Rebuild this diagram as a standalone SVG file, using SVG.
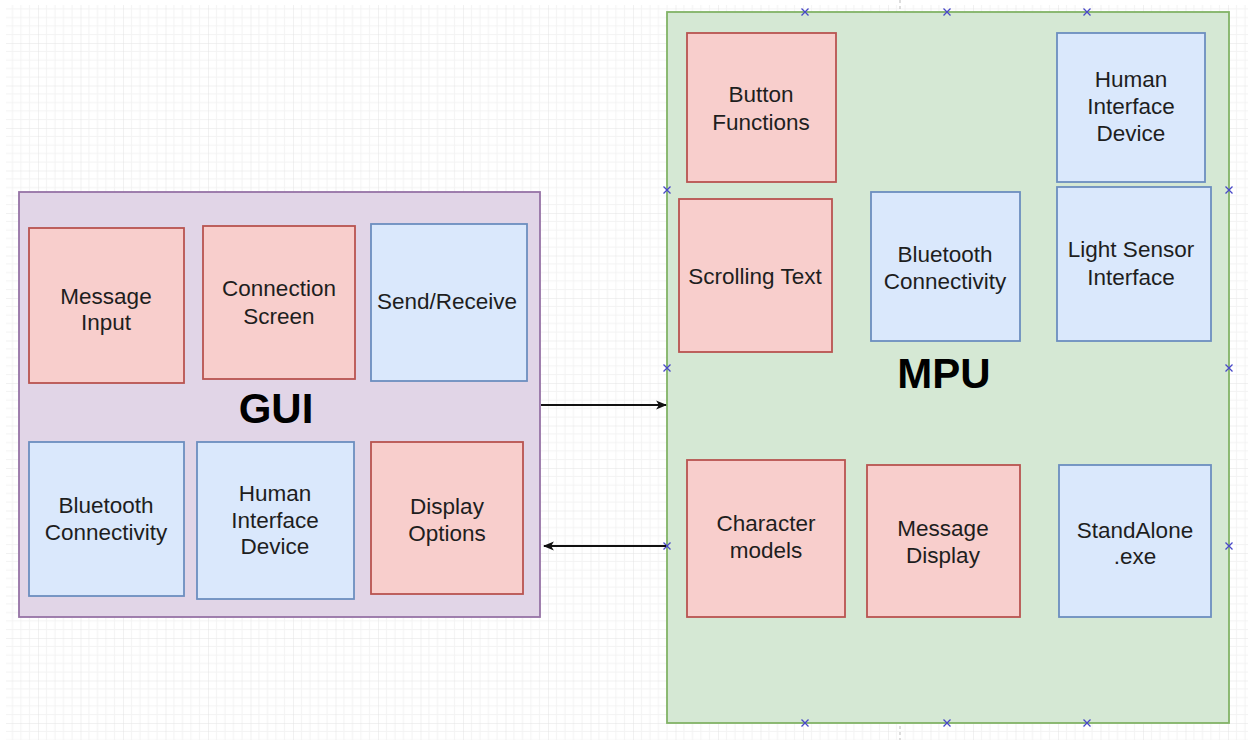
<svg xmlns="http://www.w3.org/2000/svg" width="1248" height="740" viewBox="0 0 1248 740">
<defs>
<style>
.bg{fill:#ffffff}
.red{fill:#f8cecc;stroke:#b85450;stroke-width:1.8}
.blue{fill:#dae8fc;stroke:#6c8ebf;stroke-width:1.8}
.gui{fill:#e1d5e7;stroke:#9673a6;stroke-width:1.8}
.mpu{fill:#d5e8d4;stroke:#82b366;stroke-width:1.8}
.t{font-family:"Liberation Sans",Arial,sans-serif;font-size:22.5px;fill:#1e1e1e;text-anchor:middle}
.big{font-family:"Liberation Sans",Arial,sans-serif;font-size:42px;font-weight:bold;fill:#000;text-anchor:middle}
.edge{stroke:#111;stroke-width:1.8;fill:none}
.mk{stroke:#4848c8;stroke-width:1.3;fill:none}
</style>
<pattern id="grid" patternUnits="userSpaceOnUse" x="-4.5" y="0.5" width="42.5" height="42.5">
<path d="M8.5 0V42.5M17 0V42.5M25.5 0V42.5M34 0V42.5M0 8.5H42.5M0 17H42.5M0 25.5H42.5M0 34H42.5" stroke="#f3f3f3" stroke-width="1"/>
<path d="M0 0V42.5M0 0H42.5" stroke="#e3e3e3" stroke-width="1"/>
</pattern>
<marker id="arr" viewBox="0 0 10 10" refX="9" refY="5" markerWidth="11" markerHeight="11" markerUnits="userSpaceOnUse" orient="auto">
<path d="M0 1L10 5L0 9L2.5 5Z" fill="#111"/>
</marker>
<path id="x" d="M-3.5 -3.5L3.5 3.5M-3.5 3.5L3.5 -3.5"/>
</defs>
<rect class="bg" x="0" y="0" width="1248" height="740"/>
<rect x="6" y="5" width="1242" height="735" fill="url(#grid)"/>
<line x1="900" y1="0" x2="900" y2="740" stroke="#bbbbbb" stroke-width="1" stroke-dasharray="3,3"/>

<g id="gui">
<rect class="gui" x="19" y="192" width="521" height="425"/>
<text class="big" x="276" y="423">GUI</text>
</g>
<g id="gui-message-input">
<rect class="red" x="29" y="228" width="155" height="155"/>
<text class="t" x="106" y="304">Message</text>
<text class="t" x="106" y="330">Input</text>
</g>
<g id="gui-connection-screen">
<rect class="red" x="203" y="226" width="152" height="153"/>
<text class="t" x="279" y="296">Connection</text>
<text class="t" x="279" y="324">Screen</text>
</g>
<g id="gui-send-receive">
<rect class="blue" x="371" y="224" width="156" height="157"/>
<text class="t" x="447" y="309">Send/Receive</text>
</g>
<g id="gui-bluetooth">
<rect class="blue" x="29" y="442" width="155" height="154"/>
<text class="t" x="106" y="513">Bluetooth</text>
<text class="t" x="106" y="540">Connectivity</text>
</g>
<g id="gui-hid">
<rect class="blue" x="197" y="442" width="157" height="157"/>
<text class="t" x="275" y="501">Human</text>
<text class="t" x="275" y="528">Interface</text>
<text class="t" x="275" y="554">Device</text>
</g>
<g id="gui-display-options">
<rect class="red" x="371" y="442" width="152" height="152"/>
<text class="t" x="447" y="514">Display</text>
<text class="t" x="447" y="541">Options</text>
</g>

<g id="mpu">
<rect class="mpu" x="667" y="12" width="562" height="711"/>
<text class="big" x="944" y="388">MPU</text>
</g>
<g id="mpu-button-functions">
<rect class="red" x="687" y="33" width="149" height="149"/>
<text class="t" x="761" y="102">Button</text>
<text class="t" x="761" y="130">Functions</text>
</g>
<g id="mpu-hid">
<rect class="blue" x="1057" y="33" width="148" height="149"/>
<text class="t" x="1131" y="87">Human</text>
<text class="t" x="1131" y="114">Interface</text>
<text class="t" x="1131" y="141">Device</text>
</g>
<g id="mpu-scrolling-text">
<rect class="red" x="679" y="199" width="153" height="153"/>
<text class="t" x="755" y="284">Scrolling Text</text>
</g>
<g id="mpu-bluetooth">
<rect class="blue" x="871" y="192" width="149" height="149"/>
<text class="t" x="945" y="262">Bluetooth</text>
<text class="t" x="945" y="289">Connectivity</text>
</g>
<g id="mpu-light-sensor">
<rect class="blue" x="1057" y="187" width="154" height="154"/>
<text class="t" x="1131" y="257">Light Sensor</text>
<text class="t" x="1131" y="285">Interface</text>
</g>
<g id="mpu-character-models">
<rect class="red" x="687" y="460" width="158" height="157"/>
<text class="t" x="766" y="531">Character</text>
<text class="t" x="766" y="558">models</text>
</g>
<g id="mpu-message-display">
<rect class="red" x="867" y="465" width="153" height="152"/>
<text class="t" x="943" y="536">Message</text>
<text class="t" x="943" y="563">Display</text>
</g>
<g id="mpu-standalone">
<rect class="blue" x="1059" y="465" width="152" height="152"/>
<text class="t" x="1135" y="538">StandAlone</text>
<text class="t" x="1135" y="564">.exe</text>
</g>

<g id="markers" class="mk">
<use href="#x" x="805" y="12"/><use href="#x" x="947" y="12"/><use href="#x" x="1087" y="12"/>
<use href="#x" x="805" y="723"/><use href="#x" x="947" y="723"/><use href="#x" x="1087" y="723"/>
<use href="#x" x="667" y="190"/><use href="#x" x="667" y="368"/><use href="#x" x="667" y="546"/>
<use href="#x" x="1229" y="190"/><use href="#x" x="1229" y="368"/><use href="#x" x="1229" y="546"/>
</g>

<g id="connectors">
<line class="edge" x1="541" y1="405" x2="666" y2="405" marker-end="url(#arr)"/>
<line class="edge" x1="666" y1="546" x2="544" y2="546" marker-end="url(#arr)"/>
</g>
</svg>
